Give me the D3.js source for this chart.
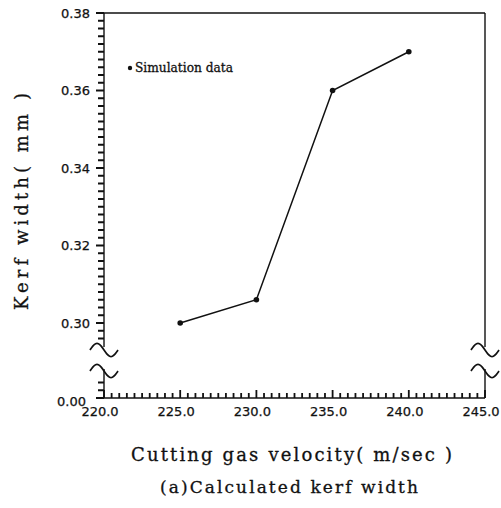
<!DOCTYPE html>
<html>
<head>
<meta charset="utf-8">
<script src="https://cdn.jsdelivr.net/npm/d3@7"></script>
<style>
  html, body { margin: 0; padding: 0; background: #fff; }
  svg { display: block; }
  .tick-label { font-family: "DejaVu Sans", sans-serif; font-size: 13px; fill: #111; stroke: #111; stroke-width: 0.25; }
  .title { font-family: "DejaVu Serif", serif; fill: #111; stroke: #111; stroke-width: 0.3; }
</style>
</head>
<body>
<div id="chart"></div>
<script>
// chart values
const velocity = [225.0, 230.0, 235.0, 240.0];
const kerfWidth = [0.300, 0.306, 0.360, 0.370];
const xTicks = [220.0, 225.0, 230.0, 235.0, 240.0, 245.0];
const yTicksUpper = [0.30, 0.32, 0.34, 0.36, 0.38];
const yTicksLower = [0.00];
const legendLabel = "Simulation data";
const xTitle = "Cutting gas velocity( m/sec )";
const yTitle = "Kerf width( mm )";
const caption = "(a)Calculated kerf width";

const width = 501, height = 508;

const svg = d3.select("#chart").append("svg")
    .attr("width", width)
    .attr("height", height);

// scales (y axis is broken between the two segments)
const x = d3.scaleLinear().domain([220, 245]).range([104, 485]);
const yUp = d3.scaleLinear().domain([0.30, 0.38]).range([323, 13]);
const yLow = d3.scaleLinear().domain([0, 0.004]).range([398, 382.5]);

const plotLeft = x.range()[0], plotRight = x.range()[1];
const plotTop = yUp.range()[1], plotBottom = yLow.range()[0];
const breakTop = 347, breakBottom = 369;

// frame: top, bottom, and broken left/right lines
const frame = svg.append("g").attr("stroke", "#111").attr("stroke-width", 1.4).attr("fill", "none");
frame.append("line").attr("x1", plotLeft).attr("x2", plotRight).attr("y1", plotTop).attr("y2", plotTop);
frame.append("line").attr("x1", plotLeft).attr("x2", plotRight).attr("y1", plotBottom).attr("y2", plotBottom);
[plotLeft, plotRight].forEach(function(px) {
    frame.append("line").attr("x1", px).attr("x2", px).attr("y1", plotTop).attr("y2", breakTop);
    frame.append("line").attr("x1", px).attr("x2", px).attr("y1", breakBottom).attr("y2", plotBottom);
});

// break marks
const wave = d3.line().curve(d3.curveBasis);
function tilde(cx, cy) {
    const pts = d3.range(0, 1.001, 0.1).map(function(t) {
        return [cx - 14 + 28 * t, cy - 7 * Math.sin(2 * Math.PI * t)];
    });
    frame.append("path").attr("d", wave(pts)).attr("stroke-width", 1.7);
}
[plotLeft, plotRight].forEach(function(px) {
    tilde(px, 350);
    tilde(px, 371);
});

// tick marks: x ticks point up into the plot, y ticks point left
const xMinor = d3.range(220, 245.01, 0.5);
const yMinorUp = d3.range(0.296, 0.3801, 0.002);
const yMinorLow = [0.000, 0.002, 0.004];
function isMajorY(v) { return Math.abs(v * 50 - Math.round(v * 50)) < 1e-6; }
function isMajorX(v) { return Math.abs(v / 5 - Math.round(v / 5)) < 1e-6; }

const xTickPath = d3.path();
xMinor.forEach(function(d) {
    xTickPath.moveTo(x(d), plotBottom);
    xTickPath.lineTo(x(d), plotBottom - (isMajorX(d) ? 8 : 5));
});
const yTickPath = d3.path();
yMinorUp.forEach(function(d) {
    yTickPath.moveTo(plotLeft, yUp(d));
    yTickPath.lineTo(plotLeft - (isMajorY(d) ? 8 : 6), yUp(d));
});
yMinorLow.forEach(function(d) {
    yTickPath.moveTo(plotLeft, yLow(d));
    yTickPath.lineTo(plotLeft - (isMajorY(d) ? 8 : 6), yLow(d));
});
frame.append("path").attr("d", xTickPath.toString()).attr("stroke-width", 1.8);
frame.append("path").attr("d", yTickPath.toString()).attr("stroke-width", 1.8);

svg.selectAll(".xlabel")
    .data(xTicks)
    .enter().append("text")
    .attr("class", "tick-label")
    .attr("x", d => x(d) - 4)
    .attr("y", plotBottom + 18)
    .attr("text-anchor", "middle")
    .text(d3.format(".1f"));

svg.selectAll(".ylabel-up")
    .data(yTicksUpper)
    .enter().append("text")
    .attr("class", "tick-label")
    .attr("x", plotLeft - 14)
    .attr("y", d => yUp(d))
    .attr("dy", "0.36em")
    .attr("text-anchor", "end")
    .text(d3.format(".2f"));
svg.selectAll(".ylabel-low")
    .data(yTicksLower)
    .enter().append("text")
    .attr("class", "tick-label")
    .attr("x", plotLeft - 18)
    .attr("y", d => yLow(d) + 3)
    .attr("dy", "0.36em")
    .attr("text-anchor", "end")
    .text(d3.format(".2f"));

// data line and markers
const points = velocity.map((v, i) => ({v: v, w: kerfWidth[i]}));
svg.append("path")
    .datum(points)
    .attr("fill", "none")
    .attr("stroke", "#111")
    .attr("stroke-width", 1.5)
    .attr("d", d3.line().x(d => x(d.v)).y(d => yUp(d.w)));
svg.selectAll(".pt")
    .data(points)
    .enter().append("circle")
    .attr("class", "pt")
    .attr("cx", d => x(d.v))
    .attr("cy", d => yUp(d.w))
    .attr("r", 2.8)
    .attr("fill", "#111");

// legend
svg.append("circle").attr("cx", 130).attr("cy", 68).attr("r", 2.2).attr("fill", "#111");
svg.append("text")
    .attr("class", "title")
    .attr("x", 135).attr("y", 72)
    .attr("font-size", 12.5)
    .attr("textLength", 98).attr("lengthAdjust", "spacingAndGlyphs")
    .text(legendLabel);

// titles
svg.append("text")
    .attr("class", "title")
    .attr("x", 131).attr("y", 461)
    .attr("font-size", 18)
    .attr("textLength", 321).attr("lengthAdjust", "spacing")
    .text(xTitle);

svg.append("text")
    .attr("class", "title")
    .attr("transform", "translate(28,310) rotate(-90)")
    .attr("font-size", 18)
    .attr("textLength", 217).attr("lengthAdjust", "spacing")
    .text(yTitle);

svg.append("text")
    .attr("class", "title")
    .attr("x", 160).attr("y", 493)
    .attr("font-size", 17)
    .attr("textLength", 258).attr("lengthAdjust", "spacing")
    .text(caption);
</script>
</body>
</html>
